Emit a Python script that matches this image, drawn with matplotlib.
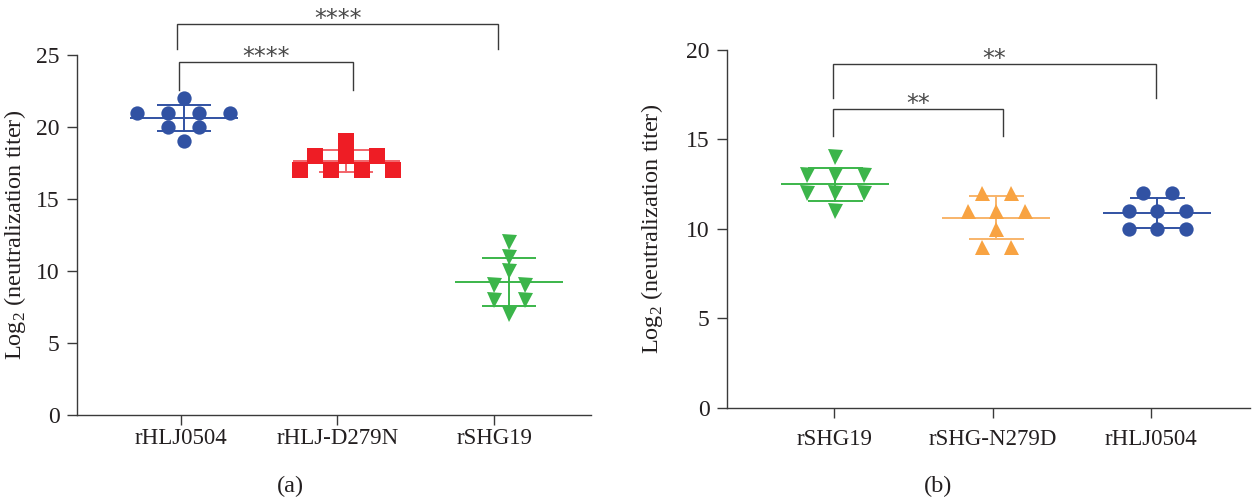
import numpy as np
import matplotlib
matplotlib.use("Agg")
import matplotlib.pyplot as plt

plt.rcParams['font.family'] = ['Liberation Serif', 'DejaVu Serif']
plt.rcParams['mathtext.fontset'] = 'custom'
plt.rcParams['mathtext.rm'] = 'Liberation Serif'

# ---------------- data ----------------
cats_a = ["rHLJ0504", "rHLJ-D279N", "rSHG19"]
rHLJ0504_a = [22, 21, 21, 21, 21, 20, 20, 19]
rHLJ_D279N_a = [19, 18, 18, 18, 17, 17, 17, 17]
rSHG19_a = [12, 11, 10, 9, 9, 8, 8, 7]
sig_a = ["****", "****"]          # (0 vs 1), (0 vs 2)

cats_b = ["rSHG19", "rSHG-N279D", "rHLJ0504"]
rSHG19_b = [14, 13, 13, 13, 12, 12, 12, 11]
rSHG_N279D_b = [12, 12, 11, 11, 11, 10, 9, 9]
rHLJ0504_b = [12, 12, 11, 11, 11, 10, 10, 10]
sig_b = ["**", "**"]              # (0 vs 1), (0 vs 2)

yticks_a = [0, 5, 10, 15, 20, 25]
yticks_b = [0, 5, 10, 15, 20]

# ---------------- styles ----------------
BLUE = '#3152A3'
RED = '#EE1D25'
GREEN = '#3BB54A'
ORANGE = '#F8A342'
AX = '#3a3a3a'
TXT = '#231F20'
FS_TICK = 17
FS_CAT = 16.5
FS_LAB = 17.5

fig = plt.figure(figsize=(12.54, 4.98), dpi=100)
ax_a = fig.add_axes([0.0612, 0.1667, 0.410, 0.7229])
ax_b = fig.add_axes([0.5795, 0.1813, 0.4173, 0.7183])


def style_axis(ax, xlim, ylim, yticks, cats, xpad, labelpad):
    ax.set_xlim(*xlim)
    ax.set_ylim(*ylim)
    for s in ['top', 'right']:
        ax.spines[s].set_visible(False)
    for s in ['left', 'bottom']:
        ax.spines[s].set_color(AX)
        ax.spines[s].set_linewidth(1.0)
    ax.set_yticks(yticks)
    ax.set_xticks(range(len(cats)))
    ax.set_xticklabels(cats, fontsize=FS_CAT)
    ax.tick_params(axis='both', direction='out', length=7.2, width=1.0,
                   color=AX, labelcolor=TXT)
    ax.tick_params(axis='y', pad=5, labelsize=FS_TICK)
    ax.tick_params(axis='x', pad=xpad)
    ax.set_ylabel(r'Log$_{\mathrm{2}}$ (neutralization titer)', fontsize=FS_LAB,
                  color=TXT, labelpad=labelpad)


def draw_group(ax, pos, vals, color, marker, ms, spacing, line_color,
               mean_hw, cap_hw):
    vals = np.asarray(vals, dtype=float)
    xs = np.empty_like(vals)
    for v in np.unique(vals):
        idx = np.where(vals == v)[0]
        n = len(idx)
        xs[idx] = pos + (np.arange(n) - (n - 1) / 2) * spacing
    m = vals.mean()
    sd = vals.std(ddof=1)
    lw = 1.4
    ax.plot([pos - mean_hw, pos + mean_hw], [m, m], color=line_color, lw=lw,
            zorder=2, solid_capstyle='butt')
    ax.plot([pos, pos], [m - sd, m + sd], color=line_color, lw=lw, zorder=2)
    for y in (m - sd, m + sd):
        ax.plot([pos - cap_hw, pos + cap_hw], [y, y], color=line_color, lw=lw,
                zorder=2, solid_capstyle='butt')
    ax.plot(xs, vals, linestyle='none', marker=marker, ms=ms, color=color,
            markeredgewidth=0, zorder=3, clip_on=False)


def bracket(ax, x0, x1, top, bottom, label, dy):
    ax.plot([x0, x0, x1, x1], [bottom, top, top, bottom], color=AX, lw=1.0,
            clip_on=False, solid_joinstyle='miter')
    ax.text((x0 + x1) / 2, top + dy, label, ha='center', va='baseline',
            fontsize=17, color='#4a4a4a', family='DejaVu Sans', clip_on=False)


# ---------------- panel (a) ----------------
style_axis(ax_a, (-0.663, 2.617), (0, 25), yticks_a, cats_a, xpad=2, labelpad=6)
pos_a = np.arange(3) * 1.0375 + 0.02
groups_a = [(rHLJ0504_a, BLUE, 'o', 10.3, BLUE),
            (rHLJ_D279N_a, RED, 's', 11.0, '#F2646A'),
            (rSHG19_a, GREEN, 'v', 10.8, GREEN)]
for p, (vals, c, mk, ms, lc) in zip(pos_a, groups_a):
    draw_group(ax_a, p, vals, c, mk, ms, 0.198, lc, 0.344, 0.172)
bracket(ax_a, -0.011, 1.102, 24.53, 22.6, sig_a[0], -0.15)
bracket(ax_a, -0.022, 2.025, 27.13, 25.4, sig_a[1], -0.15)

# ---------------- panel (b) ----------------
style_axis(ax_b, (-0.680, 2.626), (0, 20), yticks_b, cats_b, xpad=8, labelpad=15)
pos_b = np.arange(3) * 1.018 + 0.005
groups_b = [(rSHG19_b, GREEN, 'v', 10.8, GREEN),
            (rSHG_N279D_b, ORANGE, '^', 10.8, '#F8B46A'),
            (rHLJ0504_b, BLUE, 'o', 10.3, BLUE)]
for p, (vals, c, mk, ms, lc) in zip(pos_b, groups_b):
    draw_group(ax_b, p, vals, c, mk, ms, 0.18, lc, 0.341, 0.174)
bracket(ax_b, -0.006, 1.065, 16.7, 15.2, sig_b[0], -0.12)
bracket(ax_b, -0.006, 2.03, 19.22, 17.3, sig_b[1], -0.12)

fig.text(290 / 1254, 1 - 486 / 498, '(a)', ha='center', va='center',
         fontsize=17.5, color=TXT)
fig.text(938 / 1254, 1 - 486 / 498, '(b)', ha='center', va='center',
         fontsize=17.5, color=TXT)

fig.savefig('out.png', dpi=100)
